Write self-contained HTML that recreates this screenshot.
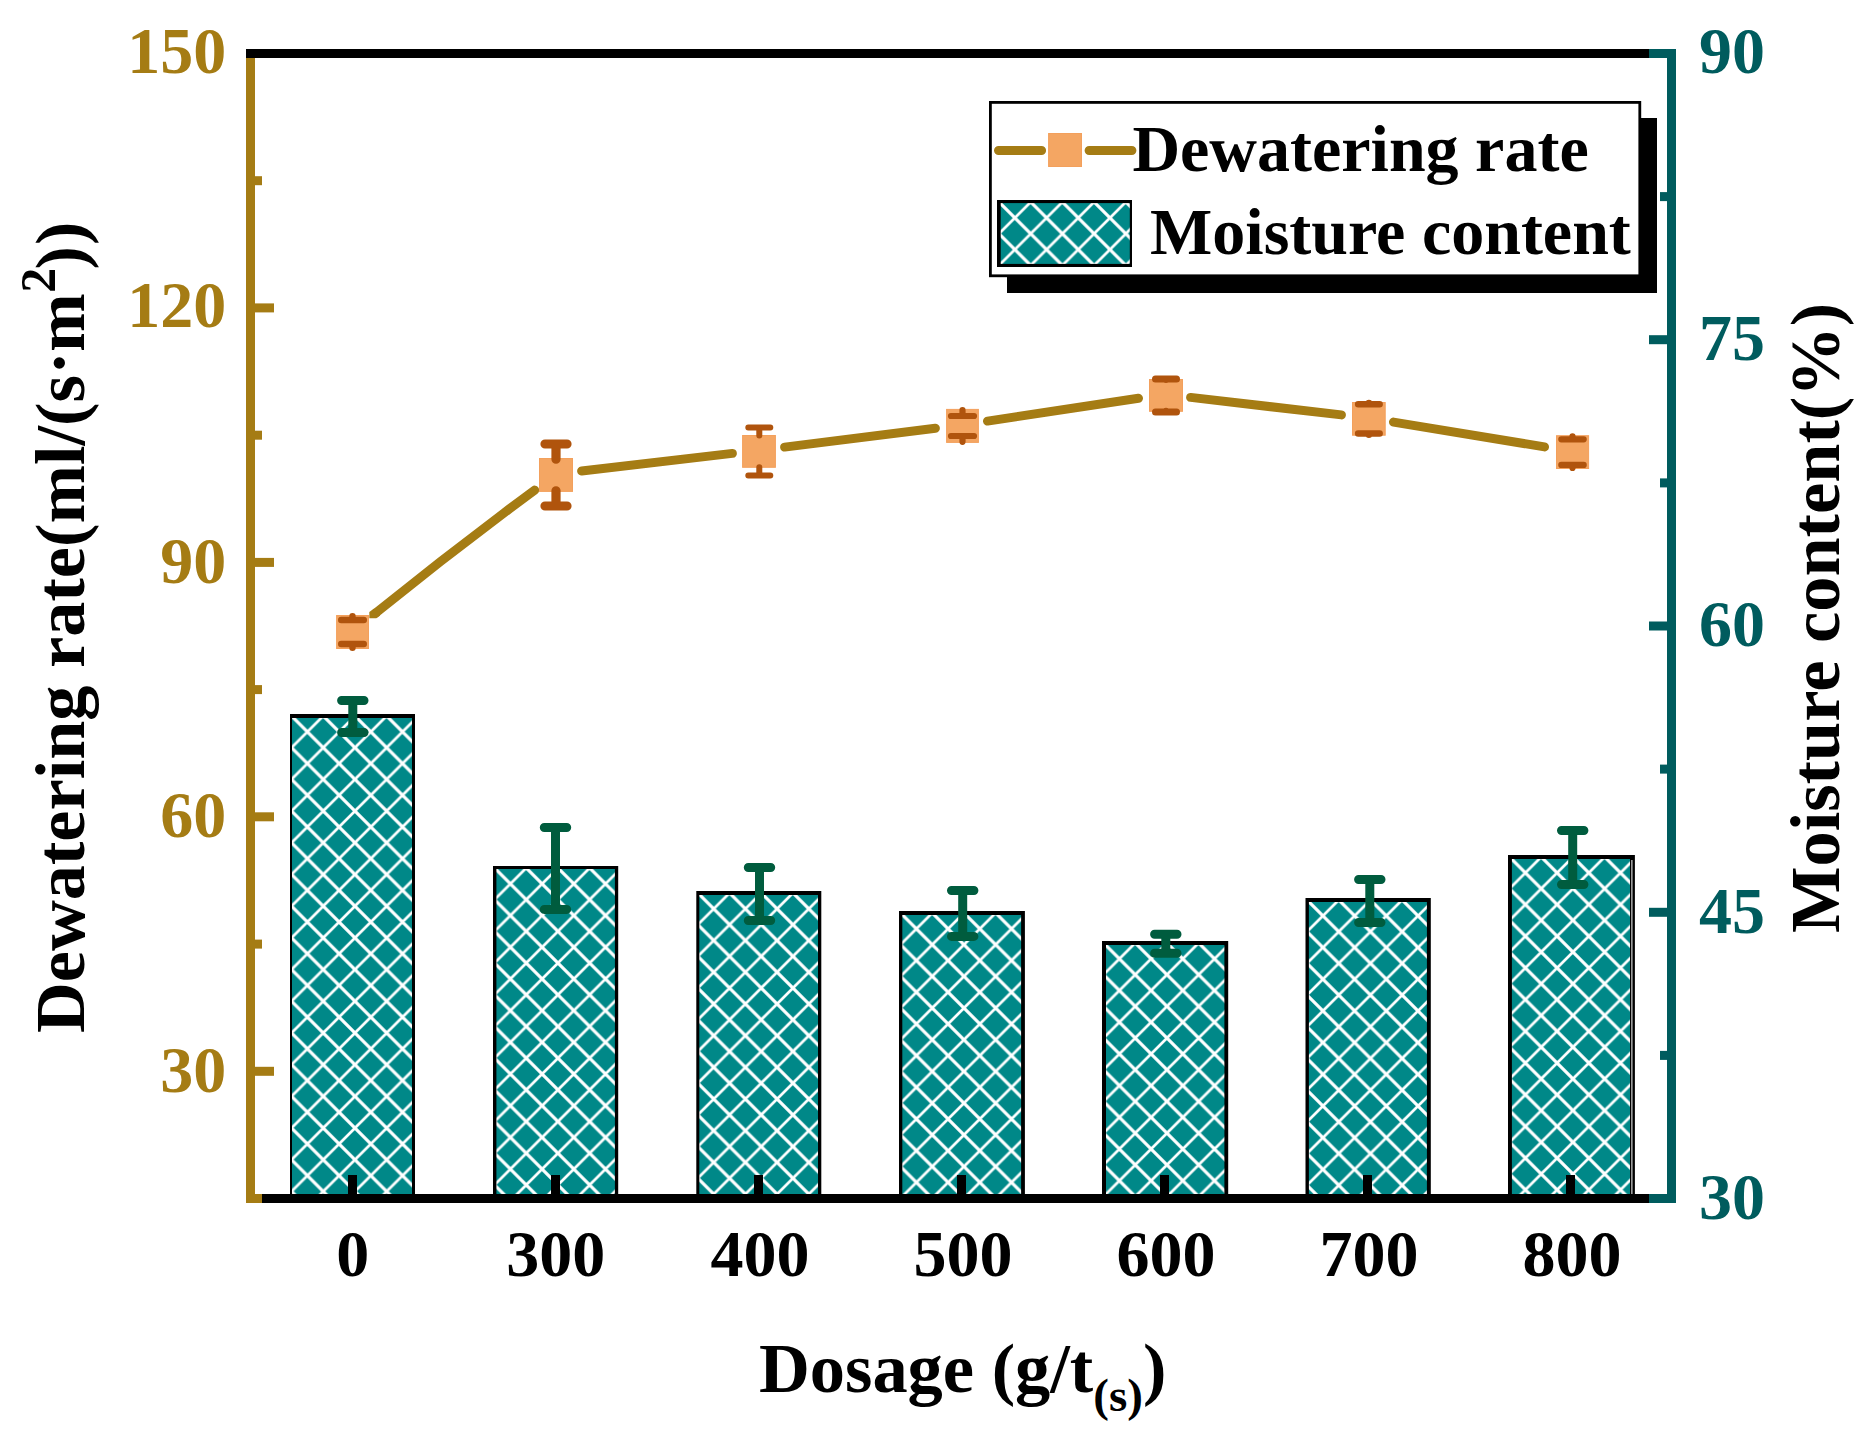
<!DOCTYPE html>
<html lang="en"><head><meta charset="utf-8"><title>Dewatering rate and moisture content vs dosage</title>
<style>
html,body{margin:0;padding:0;background:#fff;}
svg{display:block;}
text{font-family:"Liberation Serif",serif;font-weight:bold;}
.tk{font-size:66px;}
.ti{font-size:70.4px;}
</style></head><body>
<svg width="1873" height="1437" viewBox="0 0 1873 1437">
<rect x="0" y="0" width="1873" height="1437" fill="#fff"/>
<defs>
<pattern id="h0" patternUnits="userSpaceOnUse" x="291.55" y="715.95" width="31.7" height="31.7"><rect x="0" y="0" width="31.7" height="31.7" fill="#008888"/><path d="M31.7 0L0 31.7M-15.85 15.85L15.85 -15.85M15.85 47.55L47.55 15.85" stroke="#fff" stroke-width="2.7" fill="none"/><path d="M0 0L31.7 31.7M-15.85 15.85L15.85 47.55M15.85 -15.85L47.55 15.85" stroke="#fff" stroke-width="3.2" fill="none"/></pattern>
<pattern id="h1" patternUnits="userSpaceOnUse" x="494.55" y="867.95" width="31.7" height="31.7"><rect x="0" y="0" width="31.7" height="31.7" fill="#008888"/><path d="M31.7 0L0 31.7M-15.85 15.85L15.85 -15.85M15.85 47.55L47.55 15.85" stroke="#fff" stroke-width="2.7" fill="none"/><path d="M0 0L31.7 31.7M-15.85 15.85L15.85 47.55M15.85 -15.85L47.55 15.85" stroke="#fff" stroke-width="3.2" fill="none"/></pattern>
<pattern id="h2" patternUnits="userSpaceOnUse" x="697.85" y="892.95" width="31.7" height="31.7"><rect x="0" y="0" width="31.7" height="31.7" fill="#008888"/><path d="M31.7 0L0 31.7M-15.85 15.85L15.85 -15.85M15.85 47.55L47.55 15.85" stroke="#fff" stroke-width="2.7" fill="none"/><path d="M0 0L31.7 31.7M-15.85 15.85L15.85 47.55M15.85 -15.85L47.55 15.85" stroke="#fff" stroke-width="3.2" fill="none"/></pattern>
<pattern id="h3" patternUnits="userSpaceOnUse" x="900.55" y="912.95" width="31.7" height="31.7"><rect x="0" y="0" width="31.7" height="31.7" fill="#008888"/><path d="M31.7 0L0 31.7M-15.85 15.85L15.85 -15.85M15.85 47.55L47.55 15.85" stroke="#fff" stroke-width="2.7" fill="none"/><path d="M0 0L31.7 31.7M-15.85 15.85L15.85 47.55M15.85 -15.85L47.55 15.85" stroke="#fff" stroke-width="3.2" fill="none"/></pattern>
<pattern id="h4" patternUnits="userSpaceOnUse" x="1103.55" y="942.95" width="31.7" height="31.7"><rect x="0" y="0" width="31.7" height="31.7" fill="#008888"/><path d="M31.7 0L0 31.7M-15.85 15.85L15.85 -15.85M15.85 47.55L47.55 15.85" stroke="#fff" stroke-width="2.7" fill="none"/><path d="M0 0L31.7 31.7M-15.85 15.85L15.85 47.55M15.85 -15.85L47.55 15.85" stroke="#fff" stroke-width="3.2" fill="none"/></pattern>
<pattern id="h5" patternUnits="userSpaceOnUse" x="1307.05" y="899.95" width="31.7" height="31.7"><rect x="0" y="0" width="31.7" height="31.7" fill="#008888"/><path d="M31.7 0L0 31.7M-15.85 15.85L15.85 -15.85M15.85 47.55L47.55 15.85" stroke="#fff" stroke-width="2.7" fill="none"/><path d="M0 0L31.7 31.7M-15.85 15.85L15.85 47.55M15.85 -15.85L47.55 15.85" stroke="#fff" stroke-width="3.2" fill="none"/></pattern>
<pattern id="h6" patternUnits="userSpaceOnUse" x="1509.55" y="856.95" width="31.7" height="31.7"><rect x="0" y="0" width="31.7" height="31.7" fill="#008888"/><path d="M31.7 0L0 31.7M-15.85 15.85L15.85 -15.85M15.85 47.55L47.55 15.85" stroke="#fff" stroke-width="2.7" fill="none"/><path d="M0 0L31.7 31.7M-15.85 15.85L15.85 47.55M15.85 -15.85L47.55 15.85" stroke="#fff" stroke-width="3.2" fill="none"/></pattern>
<pattern id="hl" patternUnits="userSpaceOnUse" x="999.0" y="202.0" width="31.7" height="31.7"><rect x="0" y="0" width="31.7" height="31.7" fill="#008888"/><path d="M31.7 0L0 31.7M-15.85 15.85L15.85 -15.85M15.85 47.55L47.55 15.85" stroke="#fff" stroke-width="2.7" fill="none"/><path d="M0 0L31.7 31.7M-15.85 15.85L15.85 47.55M15.85 -15.85L47.55 15.85" stroke="#fff" stroke-width="3.2" fill="none"/></pattern>
</defs>
<g id="bars">
<rect x="290" y="714" width="125" height="482" fill="#000"/>
<rect x="292" y="718" width="120" height="478" fill="url(#h0)"/>
<rect x="493" y="866" width="125.20000000000005" height="330" fill="#000"/>
<rect x="496.4" y="869" width="118.50000000000004" height="327" fill="url(#h1)"/>
<rect x="696.3" y="891" width="125.0" height="305" fill="#000"/>
<rect x="699.3" y="895" width="118.7" height="301" fill="url(#h2)"/>
<rect x="899" y="911" width="125.90000000000009" height="285" fill="#000"/>
<rect x="902.3" y="915" width="118.8000000000001" height="281" fill="url(#h3)"/>
<rect x="1102" y="941" width="126.20000000000005" height="255" fill="#000"/>
<rect x="1106" y="945" width="118.40000000000005" height="251" fill="url(#h4)"/>
<rect x="1305.5" y="898" width="125.29999999999995" height="298" fill="#000"/>
<rect x="1308.9" y="902" width="117.99999999999994" height="294" fill="url(#h5)"/>
<rect x="1508" y="855" width="126.90000000000009" height="341" fill="#000"/>
<rect x="1511.9" y="859" width="118.10000000000008" height="337" fill="url(#h6)"/>
<rect x="1631.4" y="860" width="1" height="334" fill="#fff"/>
</g>
<g id="axes">
<rect x="348.0" y="1175" width="9" height="20" fill="#000"/>
<rect x="551.0" y="1175" width="9" height="20" fill="#000"/>
<rect x="754.0" y="1175" width="9" height="20" fill="#000"/>
<rect x="957.0" y="1175" width="9" height="20" fill="#000"/>
<rect x="1160.0" y="1175" width="9" height="20" fill="#000"/>
<rect x="1363.0" y="1175" width="9" height="20" fill="#000"/>
<rect x="1566.0" y="1175" width="9" height="20" fill="#000"/>
<rect x="246" y="49" width="9" height="1154" fill="#a57c14"/>
<rect x="1667" y="49" width="9" height="1154" fill="#005c5e"/>
<rect x="255" y="303.4" width="19" height="9" fill="#a57c14"/>
<rect x="255" y="557.9" width="19" height="9" fill="#a57c14"/>
<rect x="255" y="812.3" width="19" height="9" fill="#a57c14"/>
<rect x="255" y="1066.8" width="19" height="9" fill="#a57c14"/>
<rect x="255" y="176.2" width="7" height="9" fill="#a57c14"/>
<rect x="255" y="430.7" width="7" height="9" fill="#a57c14"/>
<rect x="255" y="685.1" width="7" height="9" fill="#a57c14"/>
<rect x="255" y="939.6" width="7" height="9" fill="#a57c14"/>
<rect x="255" y="1194.0" width="7" height="9" fill="#a57c14"/>
<rect x="1649" y="49.0" width="18" height="9" fill="#005c5e"/>
<rect x="1649" y="335.2" width="18" height="9" fill="#005c5e"/>
<rect x="1649" y="621.5" width="18" height="9" fill="#005c5e"/>
<rect x="1649" y="907.8" width="18" height="9" fill="#005c5e"/>
<rect x="1649" y="1194.0" width="18" height="9" fill="#005c5e"/>
<rect x="1660" y="192.1" width="7" height="9" fill="#005c5e"/>
<rect x="1660" y="478.4" width="7" height="9" fill="#005c5e"/>
<rect x="1660" y="764.6" width="7" height="9" fill="#005c5e"/>
<rect x="1660" y="1050.9" width="7" height="9" fill="#005c5e"/>
<rect x="246" y="49" width="1403" height="9" fill="#000"/>
<rect x="262" y="1194" width="1387" height="9" fill="#000"/>
</g>
<g id="gerr" stroke="#005c3e" stroke-width="9" stroke-linecap="round" fill="none">
<path d="M352.8 700.5V732.5M341.6 700.5H364.0M341.6 732.5H364.0"/>
<path d="M555.5 827.5V909.4M544.3 827.5H566.7M544.3 909.4H566.7"/>
<path d="M759.5 867.5V920.5M748.3 867.5H770.7M748.3 920.5H770.7"/>
<path d="M962.7 890.5V936.4M951.5 890.5H973.9M951.5 936.4H973.9"/>
<path d="M1165.8 934.3V953.3M1154.6 934.3H1177.0M1154.6 953.3H1177.0"/>
<path d="M1369.8 879.5V922.5M1358.6 879.5H1381.0M1358.6 922.5H1381.0"/>
<path d="M1572.7 830.5V884.5M1561.5 830.5H1583.9M1561.5 884.5H1583.9"/>
</g>
<g id="line" stroke="#a57c14" stroke-width="9" stroke-linecap="round" fill="none">
<path d="M375.1 613.5Q453.6 550.1 534.7 490.1"/>
<path d="M581.6 471.0L732.4 453.4"/>
<path d="M784.6 447.1L935.4 428.3"/>
<path d="M987.5 421.1L1138.5 398.3"/>
<path d="M1190.6 397.4L1341.4 414.9"/>
<path d="M1393.5 422.1L1544.5 446.9"/>
</g>
<path d="M369.3 612L369.3 618.3L376.3 618.3L380.2 615.4L374.2 608.4Z" fill="#a57c14"/>
<g id="markers">
<rect x="336.6" y="615.5" width="31.9" height="33.0" fill="#f4a663" stroke="#f3a05c" stroke-width="1"/>
<rect x="539.5" y="458.5" width="33.0" height="32.9" fill="#f4a663" stroke="#f3a05c" stroke-width="1"/>
<rect x="742.6" y="435.5" width="32.8" height="31.8" fill="#f4a663" stroke="#f3a05c" stroke-width="1"/>
<rect x="946.6" y="409.4" width="31.8" height="33.0" fill="#f4a663" stroke="#f3a05c" stroke-width="1"/>
<rect x="1149.5" y="379.5" width="33.0" height="31.8" fill="#f4a663" stroke="#f3a05c" stroke-width="1"/>
<rect x="1352.5" y="402.5" width="32.7" height="32.7" fill="#f4a663" stroke="#f3a05c" stroke-width="1"/>
<rect x="1556.5" y="435.7" width="32.1" height="32.8" fill="#f4a663" stroke="#f3a05c" stroke-width="1"/>
</g>
<g id="oerr" stroke="#b0540d" stroke-linecap="round" fill="none">
<path stroke-width="6.4" d="M352.5 620.0V616.2M352.5 644.0V647.8M341.2 620.0H363.8M341.2 644.0H363.8"/>
<path stroke-width="9.2" d="M556 444.0V459.2M556 506.0V490.8M545.0 444.0H567.0M545.0 506.0H567.0"/>
<path stroke-width="6.0" d="M759.3 427.4V435.6M759.3 475.4V467.2M748.3 427.4H770.3M748.3 475.4H770.3"/>
<path stroke-width="6.2" d="M962.5 416.0V410.2M962.5 436.0V441.8M951.0 416.0H974.0M951.0 436.0H974.0"/>
<path stroke-width="7.0" d="M1166 378.9V379.6M1166 411.9V411.2M1155.5 378.9H1176.5M1155.5 411.9H1176.5"/>
<path stroke-width="6.6" d="M1368.9 404.3V403.1M1368.9 433.5V434.7M1358.2 404.3H1379.6M1358.2 433.5H1379.6"/>
<path stroke-width="6.2" d="M1572.5 439.3V436.3M1572.5 464.9V467.9M1561.3 439.3H1583.7M1561.3 464.9H1583.7"/>
</g>
<g id="legend">
<rect x="1007" y="118" width="650" height="175" fill="#000"/>
<rect x="990.4" y="102.4" width="649.4" height="173.4" fill="#fff" stroke="#000" stroke-width="2.8"/>
<path d="M998.6 150.5H1041.5M1089.2 150.5H1131.8" stroke="#a57c14" stroke-width="9.2" stroke-linecap="round" fill="none"/>
<rect x="1048.6" y="133.5" width="32.9" height="33" fill="#f4a663" stroke="#f3a05c" stroke-width="1"/>
<rect x="997" y="200" width="135" height="67" fill="#000"/>
<rect x="1000.7" y="203.1" width="129.1" height="60.8" fill="url(#hl)"/>
<text class="tk" x="1132.4" y="171.2">Dewatering rate</text>
<text class="tk" x="1150" y="254">Moisture content</text>
</g>
<g id="ltk" class="tk" fill="#a57c14" text-anchor="end">
<text x="226.3" y="73.0">150</text>
<text x="226.3" y="327.4">120</text>
<text x="226.3" y="582.7">90</text>
<text x="226.3" y="837.3">60</text>
<text x="226.3" y="1092.3">30</text>
</g>
<g id="rtk" class="tk" fill="#005c5e">
<text x="1699" y="73.0">90</text>
<text x="1699" y="359.9">75</text>
<text x="1699" y="646.2">60</text>
<text x="1699" y="933.2">45</text>
<text x="1699" y="1219.2">30</text>
</g>
<g id="xtk" class="tk" fill="#000" text-anchor="middle">
<text x="352.8" y="1275.7">0</text>
<text x="555.7" y="1275.7">300</text>
<text x="760.0" y="1275.7">400</text>
<text x="963.0" y="1275.7">500</text>
<text x="1166.0" y="1275.7">600</text>
<text x="1369.0" y="1275.7">700</text>
<text x="1572.0" y="1275.7">800</text>
</g>
<text class="ti" x="759" y="1391.7">Dosage (g/t<tspan font-size="47" dy="19.5">(s)</tspan><tspan dy="-19.5">)</tspan></text>
<text class="ti" transform="translate(84.2 1033) rotate(-90)"><tspan x="0" font-size="70.3">Dewatering rate(ml/(s</tspan><tspan x="658.2" dy="-2.6">·</tspan><tspan x="680.9" dy="2.6">m</tspan><tspan x="740.2" font-size="50" dy="-29">2</tspan><tspan x="763.4" dy="29">)</tspan><tspan x="787.9">)</tspan></text>
<text class="ti" transform="translate(1839 933) rotate(-90)">Moisture content(%)</text>
</svg>
</body></html>
